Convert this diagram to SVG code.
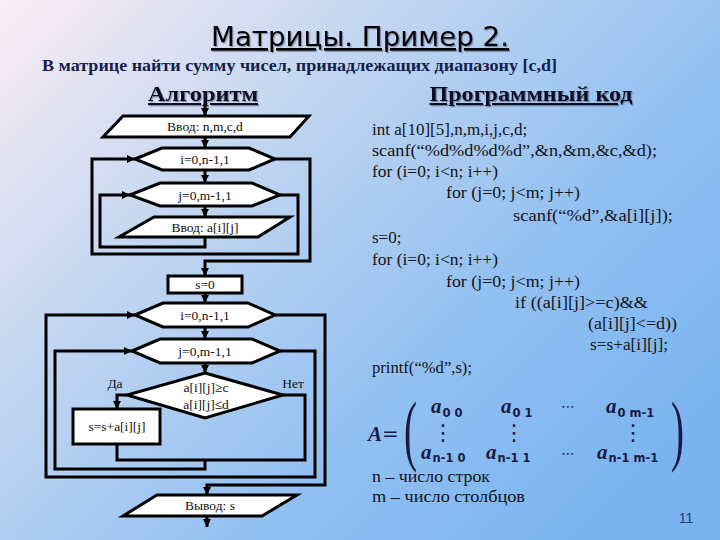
<svg xmlns="http://www.w3.org/2000/svg" width="720" height="540" viewBox="0 0 720 540">
<defs>
<linearGradient id="bg" x1="0" y1="0" x2="1" y2="0.75">
<stop offset="0" stop-color="#fcedf4"/>
<stop offset="0.35" stop-color="#c2d6f1"/>
<stop offset="0.7" stop-color="#92c0f2"/>
<stop offset="1" stop-color="#7ab4f0"/>
</linearGradient>
<filter id="sh" x="-5%" y="-20%" width="110%" height="140%">
<feDropShadow dx="1.2" dy="1.2" stdDeviation="0.5" flood-color="#303050" flood-opacity="0.45"/>
</filter>
<marker id="ar" viewBox="0 0 8 8" refX="8" refY="4" markerWidth="8" markerHeight="8" markerUnits="userSpaceOnUse" orient="auto">
<path d="M0,0 L8,4 L0,8 z" fill="#000"/>
</marker>
<style>
.nd{fill:#fff;stroke:#000;stroke-width:3;stroke-linejoin:miter}
.cn{fill:none;stroke:#000;stroke-width:3;stroke-linejoin:miter}
.ft{font-family:"Liberation Serif","Times New Roman",serif;font-size:13.5px;fill:#111;text-anchor:middle}
.code{font-family:"Liberation Serif","Times New Roman",serif;font-size:17px;fill:#141414}
.ma{font-family:"Liberation Serif",serif;font-style:italic;font-weight:bold;font-size:21px;fill:#1a1a40}
.sub{font-family:"DejaVu Sans","Liberation Sans",sans-serif;font-weight:bold;font-size:11.5px;fill:#1a1a40}
.dots{font-family:"DejaVu Sans",sans-serif;font-size:14px;fill:#1a1a40;text-anchor:middle}
.vd{font-family:"DejaVu Sans",sans-serif;font-size:22px;fill:#1a1a40;text-anchor:middle}
.par{font-family:"Liberation Serif",serif;font-size:78px;fill:#1a1a40}
</style>
</defs>
<rect x="0" y="0" width="720" height="540" fill="url(#bg)"/>

<g id="titles">
<text x="360" y="46" font-family="DejaVu Sans, sans-serif" font-size="27" text-anchor="middle" textLength="298" lengthAdjust="spacingAndGlyphs" text-decoration="underline" fill="#000" filter="url(#sh)">Матрицы. Пример 2.</text>
<text x="42" y="71" font-family="Liberation Serif, serif" font-weight="bold" font-size="16" textLength="515" lengthAdjust="spacingAndGlyphs" fill="#14204a">В матрице найти сумму чисел, принадлежащих диапазону [c,d]</text>
<text x="203" y="101" font-family="Liberation Serif, serif" font-weight="bold" font-size="21" text-anchor="middle" textLength="110" lengthAdjust="spacingAndGlyphs" text-decoration="underline" fill="#0e0e20" filter="url(#sh)">Алгоритм</text>
<text x="531" y="101" font-family="Liberation Serif, serif" font-weight="bold" font-size="21" text-anchor="middle" textLength="203" lengthAdjust="spacingAndGlyphs" text-decoration="underline" fill="#0e0e20" filter="url(#sh)">Программный код</text>
</g>

<g id="connectors">
<polyline class="cn" points="205,104 205,116" marker-end="url(#ar)"/>
<polyline class="cn" points="205,137 205,148" marker-end="url(#ar)"/>
<polyline class="cn" points="205,170 205,183" marker-end="url(#ar)"/>
<polyline class="cn" points="205,206 205,217" marker-end="url(#ar)"/>
<polyline class="cn" points="205,237 205,247 100,247 100,195 130,195" marker-end="url(#ar)"/>
<polyline class="cn" points="280,195 298,195 298,254 92,254 92,159 135,159" marker-end="url(#ar)"/>
<polyline class="cn" points="275,159 310,159 310,261 205,261 205,276" marker-end="url(#ar)"/>
<polyline class="cn" points="205,293 205,303" marker-end="url(#ar)"/>
<polyline class="cn" points="205,327 205,339" marker-end="url(#ar)"/>
<polyline class="cn" points="205,363 205,373" marker-end="url(#ar)"/>
<polyline class="cn" points="127,395 117,395 117,409" marker-end="url(#ar)"/>
<polyline class="cn" points="117,444 117,460 305,460 305,395 283,395"/>
<polyline class="cn" points="205,460 205,469 55,469 55,351 132,351" marker-end="url(#ar)"/>
<polyline class="cn" points="280,351 315,351 315,477 46,477 46,315 135,315" marker-end="url(#ar)"/>
<polyline class="cn" points="275,315 325,315 325,485 207,485 207,495" marker-end="url(#ar)"/>
<polyline class="cn" points="207,516 207,527" marker-end="url(#ar)"/>
</g>

<g id="input1">
<polygon class="nd" points="123,116 309,116 290,137 103,137"/>
<text class="ft" x="205" y="131">Ввод: n,m,c,d</text>
</g>
<g id="loop-i1">
<polygon class="nd" points="135,159 162,148 249,148 275,159 249,170 162,170"/>
<text class="ft" x="205" y="164">i=0,n-1,1</text>
</g>
<g id="loop-j1">
<polygon class="nd" points="130,195 160,183 252,183 280,195 252,206 160,206"/>
<text class="ft" x="205" y="200">j=0,m-1,1</text>
</g>
<g id="input2">
<polygon class="nd" points="154,217 290,217 258,237 119,237"/>
<text class="ft" x="205" y="232">Ввод: a[i][j]</text>
</g>
<g id="init-s">
<rect class="nd" x="168" y="276" width="74" height="17"/>
<text class="ft" x="205" y="289">s=0</text>
</g>
<g id="loop-i2">
<polygon class="nd" points="135,315 163,303 248,303 275,315 248,327 163,327"/>
<text class="ft" x="205" y="320">i=0,n-1,1</text>
</g>
<g id="loop-j2">
<polygon class="nd" points="132,351 160,339 252,339 280,351 252,363 160,363"/>
<text class="ft" x="205" y="356">j=0,m-1,1</text>
</g>
<g id="cond">
<polygon class="nd" points="205,373 283,395 205,418 127,395"/>
<text class="ft" x="206" y="392">a[i][j]≥c</text>
<text class="ft" x="206" y="409">a[i][j]≤d</text>
<text class="ft" x="115" y="388">Да</text>
<text class="ft" x="293" y="388">Нет</text>
</g>
<g id="sum">
<rect class="nd" x="73" y="409" width="87" height="35"/>
<text class="ft" x="117" y="431">s=s+a[i][j]</text>
</g>
<g id="output">
<polygon class="nd" points="157,495 297,495 262,516 123,516"/>
<text class="ft" x="210" y="510">Вывод: s</text>
</g>

<g id="code">
<text class="code" x="372" y="135">int a[10][5],n,m,i,j,c,d;</text>
<text class="code" x="372" y="156" textLength="285" lengthAdjust="spacingAndGlyphs">scanf(“%d%d%d%d”,&amp;n,&amp;m,&amp;c,&amp;d);</text>
<text class="code" x="372" y="177" textLength="126" lengthAdjust="spacingAndGlyphs">for (i=0; i&lt;n; i++)</text>
<text class="code" x="446" y="198" textLength="134" lengthAdjust="spacingAndGlyphs">for (j=0; j&lt;m; j++)</text>
<text class="code" x="513" y="221" textLength="160" lengthAdjust="spacingAndGlyphs">scanf(“%d”,&amp;a[i][j]);</text>
<text class="code" x="372" y="243">s=0;</text>
<text class="code" x="372" y="265" textLength="126" lengthAdjust="spacingAndGlyphs">for (i=0; i&lt;n; i++)</text>
<text class="code" x="446" y="287" textLength="134" lengthAdjust="spacingAndGlyphs">for (j=0; j&lt;m; j++)</text>
<text class="code" x="515" y="308" textLength="133" lengthAdjust="spacingAndGlyphs">if ((a[i][j]&gt;=c)&amp;&amp;</text>
<text class="code" x="588" y="329" textLength="89" lengthAdjust="spacingAndGlyphs">(a[i][j]&lt;=d))</text>
<text class="code" x="590" y="350" textLength="78" lengthAdjust="spacingAndGlyphs">s=s+a[i][j];</text>
<text class="code" x="372" y="373" textLength="100" lengthAdjust="spacingAndGlyphs">printf(“%d”,s);</text>
</g>

<g id="matrix">
<text class="ma" x="368" y="441" font-size="22">A</text>
<text x="382" y="440" font-family="DejaVu Sans, sans-serif" font-size="20" fill="#1a1a40">=</text>
<text class="par" x="404" y="456" transform="translate(404 0) scale(0.5 1) translate(-404 0)">(</text>
<text class="par" x="671" y="456" transform="translate(671 0) scale(0.5 1) translate(-671 0)">)</text>
<text x="431" y="413"><tspan class="ma">a</tspan><tspan class="sub" dx="1" dy="4">0 0</tspan></text>
<text x="501" y="413"><tspan class="ma">a</tspan><tspan class="sub" dx="1" dy="4">0 1</tspan></text>
<text class="dots" x="568" y="411">⋯</text>
<text x="606" y="413"><tspan class="ma">a</tspan><tspan class="sub" dx="1" dy="4">0 m-1</tspan></text>
<text class="vd" x="443" y="440">⋮</text>
<text class="vd" x="514" y="440">⋮</text>
<text class="vd" x="633" y="440">⋮</text>
<text x="421" y="459"><tspan class="ma">a</tspan><tspan class="sub" dx="1" dy="3">n-1 0</tspan></text>
<text x="486" y="459"><tspan class="ma">a</tspan><tspan class="sub" dx="1" dy="3">n-1 1</tspan></text>
<text class="dots" x="568" y="458">⋯</text>
<text x="597" y="459"><tspan class="ma">a</tspan><tspan class="sub" dx="1" dy="3">n-1 m-1</tspan></text>
</g>

<g id="notes">
<text class="code" x="372" y="482" textLength="118" lengthAdjust="spacingAndGlyphs">n – число строк</text>
<text class="code" x="372" y="502" textLength="153" lengthAdjust="spacingAndGlyphs">m – число столбцов</text>
<text x="686" y="523" font-family="Liberation Sans, sans-serif" font-size="14" fill="#1f3a7a" text-anchor="middle">11</text>
</g>
</svg>
